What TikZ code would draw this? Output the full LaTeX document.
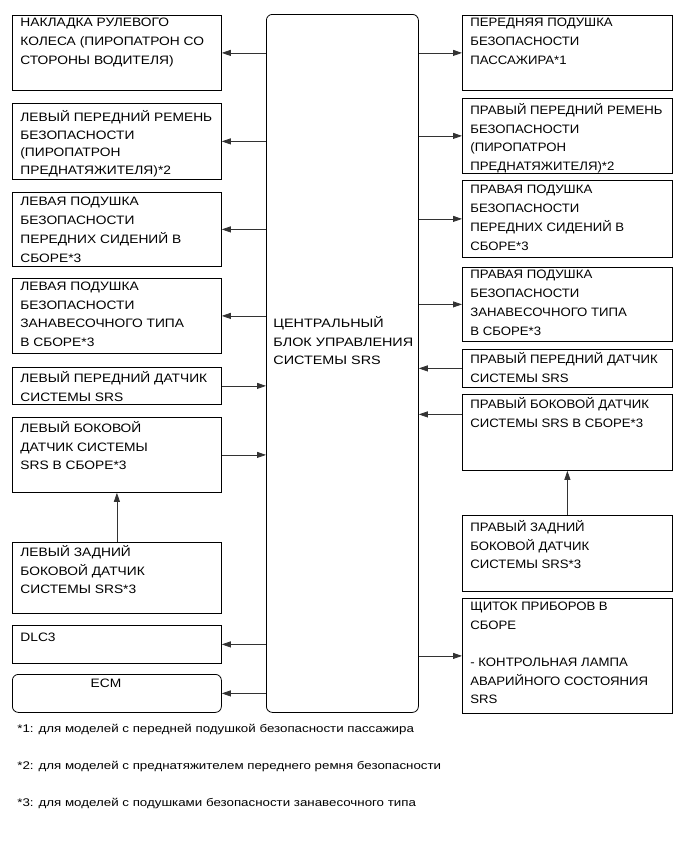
\documentclass[tikz,border=0pt]{standalone}
\usepackage{fontspec}
\setmainfont{Liberation Sans}[FakeStretch=1.13]
\newfontfamily\rightfont{Liberation Sans}[FakeStretch=1.08]
\newfontfamily\ctrlfont{Liberation Sans}[FakeStretch=1.18]
\newfontfamily\notefont{Liberation Sans}[FakeStretch=1.2]
\usetikzlibrary{arrows.meta}

\begin{document}
\begin{tikzpicture}[x=1pt, y=-1pt, >={Triangle[length=9pt,width=6pt]}, line width=0.8pt,
    unit/.style={draw, anchor=north west, inner sep=0pt},
    lunit/.style={unit, minimum width=209pt},
    runit/.style={unit, minimum width=210pt},
    lbl/.style={anchor=north west, inner sep=0pt, align=left, font=\fontsize{12.2}{18.7}\selectfont,
        execute at begin node={\rule{0pt}{12pt}}},
    rlbl/.style={lbl, font=\rightfont\fontsize{12.2}{18.7}\selectfont},
    clbl/.style={lbl, font=\ctrlfont\fontsize{12.2}{18.7}\selectfont},
    note/.style={anchor=base west, inner sep=0pt, font=\notefont\fontsize{11.1}{12}\selectfont},
    wire/.style={->, draw=black!80}]
    \useasboundingbox (0,0) rectangle (691,855);

    % control unit
    \node[unit, rounded corners=6pt, minimum width=152pt, minimum height=698pt] (ctrl) at (266,14) {};
    \node[clbl] (ctrlt) at (273,316) {ЦЕНТРАЛЬНЫЙ\\БЛОК УПРАВЛЕНИЯ\\СИСТЕМЫ SRS};

    % left column
    \node[lunit, minimum height=75pt] (l1) at (12,15) {};
    \node[lunit, minimum height=76pt] (l2) at (12,103) {};
    \node[lunit, minimum height=74pt] (l3) at (12,192) {};
    \node[lunit, minimum height=75pt] (l4) at (12,278) {};
    \node[lunit, minimum height=37pt] (l5) at (12,367) {};
    \node[lunit, minimum height=75pt] (l6) at (12,417) {};
    \node[lunit, minimum height=71pt] (l7) at (12,542) {};
    \node[lunit, minimum height=38pt] (dlc) at (12,625) {};
    \node[lunit, rounded corners=6pt, minimum height=38pt] (ecm) at (12,674) {};

    \node[lbl] (l1t) at ([shift={(8,3)}]l1.north west) {НАКЛАДКА РУЛЕВОГО\\КОЛЕСА (ПИРОПАТРОН СО\\СТОРОНЫ ВОДИТЕЛЯ)};
    \node[lbl, font=\fontsize{12.2}{17.7}\selectfont] (l2t) at ([shift={(8,7)}]l2.north west) {ЛЕВЫЙ ПЕРЕДНИЙ РЕМЕНЬ\\БЕЗОПАСНОСТИ\\(ПИРОПАТРОН\\ПРЕДНАТЯЖИТЕЛЯ)*2};
    \node[lbl] (l3t) at ([shift={(8,5)}]l3.north west) {ЛЕВАЯ ПОДУШКА\\БЕЗОПАСНОСТИ\\ПЕРЕДНИХ СИДЕНИЙ В\\СБОРЕ*3};
    \node[lbl] (l4t) at ([shift={(8,3.5)}]l4.north west) {ЛЕВАЯ ПОДУШКА\\БЕЗОПАСНОСТИ\\ЗАНАВЕСОЧНОГО ТИПА\\В СБОРЕ*3};
    \node[lbl] (l5t) at ([shift={(8,4)}]l5.north west) {ЛЕВЫЙ ПЕРЕДНИЙ ДАТЧИК\\СИСТЕМЫ SRS};
    \node[lbl] (l6t) at ([shift={(8,4)}]l6.north west) {ЛЕВЫЙ БОКОВОЙ\\ДАТЧИК СИСТЕМЫ\\SRS В СБОРЕ*3};
    \node[lbl] (l7t) at ([shift={(8,3)}]l7.north west) {ЛЕВЫЙ ЗАДНИЙ\\БОКОВОЙ ДАТЧИК\\СИСТЕМЫ SRS*3};
    \node[lbl] (dlct) at ([shift={(8,4)}]dlc.north west) {DLC3};
    \node[lbl, anchor=north] (ecmt) at (106,675) {ECM};

    % right column
    \node[runit, minimum height=75pt] (r1) at (462,15) {};
    \node[runit, minimum height=75pt] (r2) at (462,98) {};
    \node[runit, minimum height=77pt] (r3) at (462,180) {};
    \node[runit, minimum height=74pt] (r4) at (462,267) {};
    \node[runit, minimum height=38pt] (r5) at (462,349) {};
    \node[runit, minimum height=76pt] (r6) at (462,394) {};
    \node[runit, minimum height=76pt] (r7) at (462,515) {};
    \node[runit, minimum height=115pt] (r8) at (462,598) {};

    \node[rlbl] (r1t) at ([shift={(8,3)}]r1.north west) {ПЕРЕДНЯЯ ПОДУШКА\\БЕЗОПАСНОСТИ\\ПАССАЖИРА*1};
    \node[rlbl] (r2t) at ([shift={(8,5)}]r2.north west) {ПРАВЫЙ ПЕРЕДНИЙ РЕМЕНЬ\\БЕЗОПАСНОСТИ\\(ПИРОПАТРОН\\ПРЕДНАТЯЖИТЕЛЯ)*2};
    \node[rlbl] (r3t) at ([shift={(8,5)}]r3.north west) {ПРАВАЯ ПОДУШКА\\БЕЗОПАСНОСТИ\\ПЕРЕДНИХ СИДЕНИЙ В\\СБОРЕ*3};
    \node[rlbl] (r4t) at ([shift={(8,3)}]r4.north west) {ПРАВАЯ ПОДУШКА\\БЕЗОПАСНОСТИ\\ЗАНАВЕСОЧНОГО ТИПА\\В СБОРЕ*3};
    \node[rlbl] (r5t) at ([shift={(8,3)}]r5.north west) {ПРАВЫЙ ПЕРЕДНИЙ ДАТЧИК\\СИСТЕМЫ SRS};
    \node[rlbl] (r6t) at ([shift={(8,3)}]r6.north west) {ПРАВЫЙ БОКОВОЙ ДАТЧИК\\СИСТЕМЫ SRS В СБОРЕ*3};
    \node[rlbl] (r7t) at ([shift={(8,5)}]r7.north west) {ПРАВЫЙ ЗАДНИЙ\\БОКОВОЙ ДАТЧИК\\СИСТЕМЫ SRS*3};
    \node[rlbl] (r8t) at ([shift={(8,3.5)}]r8.north west) {ЩИТОК ПРИБОРОВ В\\СБОРЕ\\[18.7pt]- КОНТРОЛЬНАЯ ЛАМПА\\АВАРИЙНОГО СОСТОЯНИЯ\\SRS};

    % connections
    \coordinate (r6in) at ([yshift=18pt]r6.west);
    \draw[wire] (ctrl.west |- l1) -- (l1);
    \draw[wire] (ctrl.west |- l2) -- (l2);
    \draw[wire] (ctrl.west |- l3) -- (l3);
    \draw[wire] (ctrl.west |- l4) -- (l4);
    \draw[wire] (l5) -- (ctrl.west |- l5);
    \draw[wire] (l6) -- (ctrl.west |- l6);
    \draw[wire] (l7) -- (l6);
    \draw[wire] (ctrl.west |- dlc) -- (dlc);
    \draw[wire] (ctrl.west |- ecm) -- (ecm);
    \draw[wire] (ctrl.east |- r1) -- (r1);
    \draw[wire] (ctrl.east |- r2) -- (r2);
    \draw[wire] (ctrl.east |- r3) -- (r3);
    \draw[wire] (ctrl.east |- r4) -- (r4);
    \draw[wire] (r5) -- (ctrl.east |- r5);
    \draw[wire] (r6in) -- (ctrl.east |- r6in);
    \draw[wire] (r7) -- (r6);
    \draw[wire] (ctrl.east |- r8) -- (r8);

    % footnotes
    \node[note] (n1) at (17,732) {*1: для моделей с передней подушкой безопасности пассажира};
    \node[note] (n2) at (17,769) {*2: для моделей с преднатяжителем переднего ремня безопасности};
    \node[note] (n3) at (17,806) {*3: для моделей с подушками безопасности занавесочного типа};
\end{tikzpicture}
\end{document}
